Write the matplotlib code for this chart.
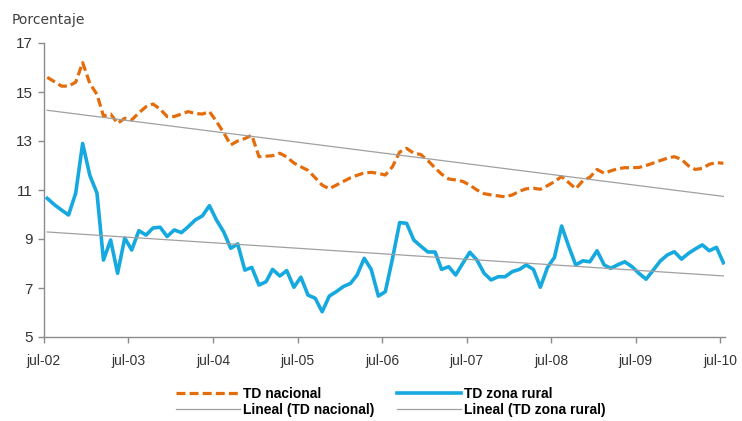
import matplotlib
matplotlib.use("Agg")
import matplotlib.pyplot as plt
import matplotlib.dates as mdates
import numpy as np
import pandas as pd

# Tasa de desempleo mensual, jul-02 a jul-10
td_nacional = [
    15.60, 15.42, 15.24, 15.24, 15.40, 16.20, 15.35, 14.90, 14.02, 14.10,
    13.72, 13.93, 13.86, 14.15, 14.40, 14.51, 14.30, 14.00, 14.00, 14.10,
    14.20, 14.12, 14.10, 14.20, 13.80, 13.35, 12.84, 13.00, 13.10, 13.24,
    12.36, 12.38, 12.40, 12.50, 12.35, 12.10, 11.95, 11.80, 11.50, 11.20,
    11.05, 11.20, 11.35, 11.50, 11.60, 11.70, 11.72, 11.68, 11.61, 11.95,
    12.55, 12.70, 12.50, 12.45, 12.20, 11.90, 11.65, 11.45, 11.41, 11.35,
    11.20, 11.00, 10.85, 10.80, 10.76, 10.72, 10.80, 10.95, 11.05, 11.07,
    11.03, 11.18, 11.34, 11.55, 11.30, 11.05, 11.38, 11.52, 11.84, 11.68,
    11.78, 11.87, 11.91, 11.91, 11.92, 12.00, 12.10, 12.20, 12.30, 12.36,
    12.25, 11.98, 11.84, 11.88, 12.05, 12.12, 12.09,
]
td_rural = [
    10.66, 10.40, 10.18, 9.98, 10.87, 12.90, 11.60, 10.87, 8.14, 8.96,
    7.60, 9.04, 8.55, 9.34, 9.16, 9.45, 9.48, 9.10, 9.37, 9.26,
    9.50, 9.78, 9.94, 10.36, 9.78, 9.30, 8.62, 8.80, 7.73, 7.84,
    7.12, 7.26, 7.76, 7.49, 7.71, 7.03, 7.44, 6.71, 6.58, 6.03,
    6.67, 6.85, 7.06, 7.19, 7.53, 8.21, 7.76, 6.67, 6.85, 8.20,
    9.67, 9.64, 8.96, 8.71, 8.47, 8.47, 7.76, 7.87, 7.53, 8.01,
    8.46, 8.14, 7.60, 7.33, 7.46, 7.46, 7.67, 7.76, 7.94, 7.76,
    7.03, 7.84, 8.25, 9.53, 8.69, 7.94, 8.11, 8.07, 8.52, 7.94,
    7.80, 7.95, 8.07, 7.87, 7.60, 7.36, 7.73, 8.10, 8.35, 8.48,
    8.18, 8.42, 8.59, 8.76, 8.52, 8.66, 8.03,
]
fechas = pd.date_range("2002-07-01", periods=len(td_nacional), freq="MS") + pd.Timedelta(days=14)
anios_ticks = list(range(2002, 2011))
y_ticks = [5, 7, 9, 11, 13, 15, 17]

naranja = "#E46C0A"
azul = "#16A9DF"
gris = "#A0A0A0"
eje = "#8C8C8C"
fuente = ["Liberation Sans", "DejaVu Sans"]

fig = plt.figure(figsize=(7.42, 4.21), dpi=100)
ax = fig.add_axes([44 / 742, 1 - 337 / 421, (725 - 44) / 742, (337 - 43) / 421])

x_num = mdates.date2num(fechas)

l1, = ax.plot(fechas, td_nacional, color=naranja, lw=2.3, dashes=(2.8, 1.3),
              solid_capstyle="butt", label="TD nacional")
l2, = ax.plot(fechas, td_rural, color=azul, lw=2.6, label="TD zona rural")

# Tendencias lineales (ajuste por mínimos cuadrados)
p_nac = np.polyfit(x_num, td_nacional, 1)
p_rur = np.polyfit(x_num, td_rural, 1)
l3, = ax.plot(fechas, np.polyval(p_nac, x_num), color=gris, lw=0.9, label="Lineal (TD nacional)")
l4, = ax.plot(fechas, np.polyval(p_rur, x_num), color=gris, lw=0.9, label="Lineal (TD zona rural)")

ax.set_xlim(pd.Timestamp("2002-07-01"), pd.Timestamp("2010-07-22"))
ax.set_ylim(5, 17)
ax.set_yticks(y_ticks)
ax.set_yticklabels([str(v) for v in y_ticks], fontsize=11, color="#333333", family=fuente)
ax.set_xticks([pd.Timestamp(f"{a}-07-01") for a in anios_ticks])
ax.set_xticklabels([f"jul-{a % 100:02d}" for a in anios_ticks],
                   fontsize=10, color="#333333", family=fuente)

for s in ["top", "right"]:
    ax.spines[s].set_visible(False)
for s in ["left", "bottom"]:
    ax.spines[s].set_color(eje)
    ax.spines[s].set_linewidth(1.0)
ax.tick_params(axis="both", direction="out", length=4, color=eje, width=1.0)
ax.tick_params(axis="x", pad=8)
ax.tick_params(axis="y", pad=4)

fig.text(12 / 742, 1 - 20 / 421, "Porcentaje", fontsize=10, color="#404040",
         va="center", ha="left")

leg = fig.legend(handles=[l1, l3, l2, l4], ncol=2, loc="center",
                 bbox_to_anchor=(391 / 742, 1 - 402 / 421), frameon=False,
                 handlelength=4.6, columnspacing=1.6, handletextpad=0.25,
                 labelspacing=0.1,
                 prop={"family": fuente, "weight": "bold", "size": 10})

fig.savefig("out.png", dpi=100)
